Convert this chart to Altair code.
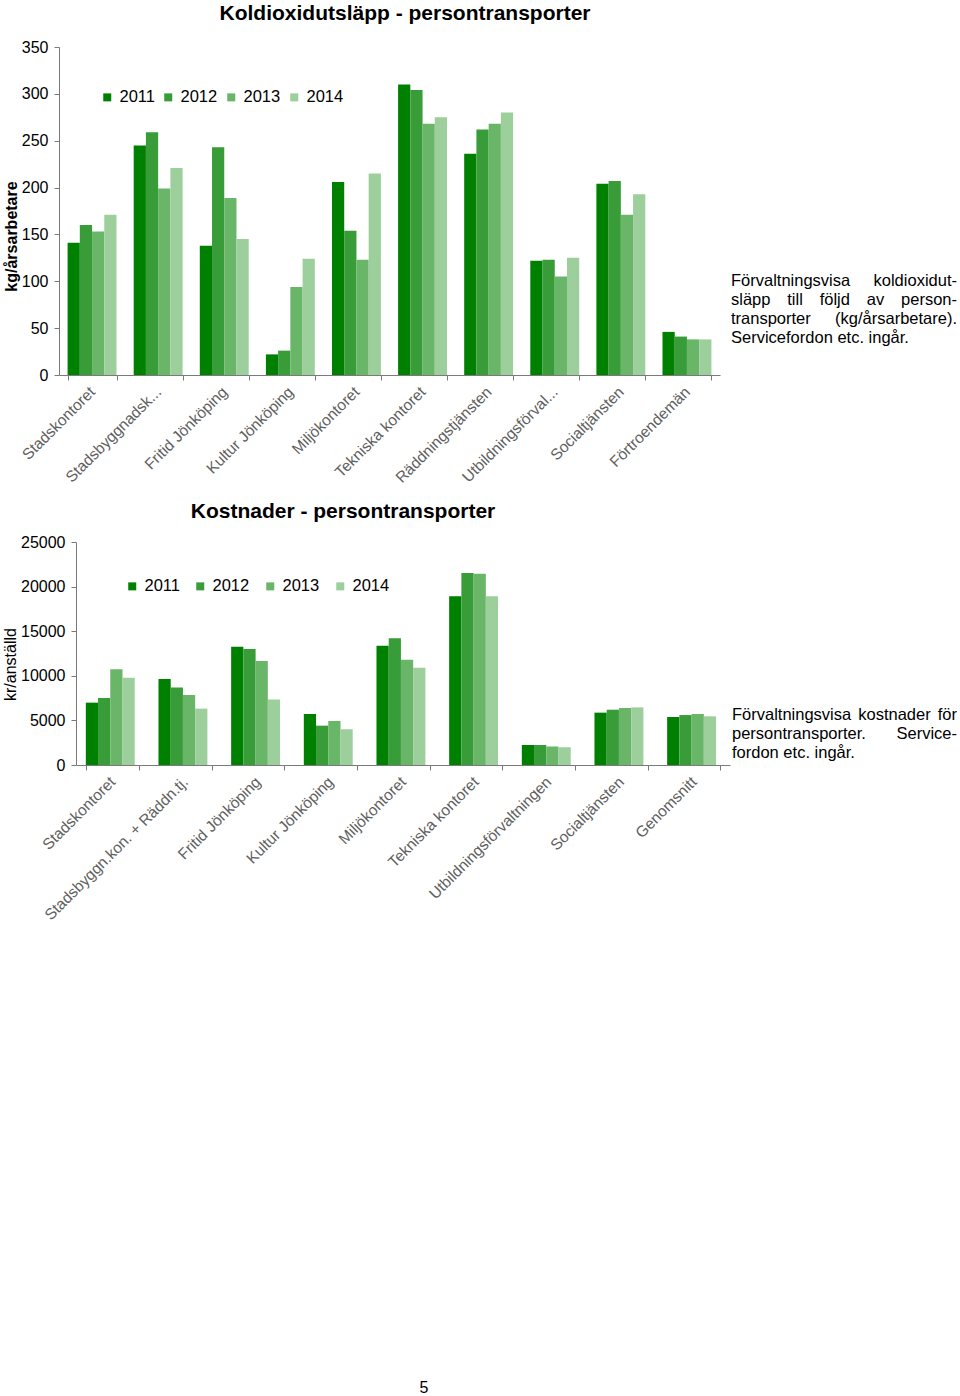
import altair as alt
import pandas as pd

years = ["2011", "2012", "2013", "2014"]
colors = ["#008000", "#389c38", "#69b669", "#9dcf9d"]

co2_cats = ["Stadskontoret", "Stadsbyggnadsk...", "Fritid Jönköping", "Kultur Jönköping",
            "Miljökontoret", "Tekniska kontoret", "Räddningstjänsten", "Utbildningsförval...",
            "Socialtjänsten", "Förtroendemän"]
co2_2011 = [141, 245, 138, 22, 206, 310, 236, 122, 204, 46]
co2_2012 = [160, 259, 243, 26, 154, 304, 262, 123, 207, 41]
co2_2013 = [153, 199, 189, 94, 123, 268, 268, 105, 171, 38]
co2_2014 = [171, 221, 145, 124, 215, 275, 280, 125, 193, 38]

cost_cats = ["Stadskontoret", "Stadsbyggn.kon. + Räddn.tj.", "Fritid Jönköping", "Kultur Jönköping",
             "Miljökontoret", "Tekniska kontoret", "Utbildningsförvaltningen", "Socialtjänsten",
             "Genomsnitt"]
cost_2011 = [6990, 9640, 13270, 5720, 13380, 18910, 2240, 5870, 5380]
cost_2012 = [7510, 8700, 13000, 4410, 14200, 21530, 2240, 6200, 5600]
cost_2013 = [10730, 7850, 11660, 4930, 11810, 21450, 2060, 6390, 5720]
cost_2014 = [9790, 6320, 7330, 4000, 10910, 18910, 1980, 6460, 5460]

co2_title = "Koldioxidutsläpp - persontransporter"
cost_title = "Kostnader - persontransporter"

co2_note = [["Förvaltningsvisa", "koldioxidut-"],
            ["släpp", "till", "följd", "av", "person-"],
            ["transporter", "(kg/årsarbetare)."],
            ["Servicefordon etc. ingår."]]
cost_note = [["Förvaltningsvisa", "kostnader", "för"],
             ["persontransporter.", "Service-"],
             ["fordon etc. ingår."]]

FONT = "Liberation Sans"
NOTE_SIZE = 16.5
AXIS_COL = "#7a7a7a"
ORIGIN_X = 59  # both panels share this group origin

W = {' ': 278, '(': 333, ')': 333, '+': 584, ',': 278, '-': 333, '.': 278, '/': 278,
     'F': 611, 'S': 667,
     'a': 556, 'b': 556, 'c': 500, 'd': 556, 'e': 556, 'f': 278, 'g': 556, 'h': 556,
     'i': 222, 'j': 222, 'k': 500, 'l': 222, 'm': 833, 'n': 556, 'o': 556, 'p': 556,
     'q': 556, 'r': 333, 's': 500, 't': 278, 'u': 556, 'v': 500, 'w': 722, 'x': 500,
     'y': 500, 'z': 500, 'å': 556, 'ä': 556, 'ö': 556}


def tw(s, size=NOTE_SIZE):
    return sum(W.get(c, 556) for c in s) * size / 1000.0


def note_rows(lines, left, right, first_base, step, ox, oy):
    rows = []
    for li, words in enumerate(lines):
        yb = first_base + li * step - oy
        if len(words) == 1 or li == len(lines) - 1:
            rows.append({"t": " ".join(words), "x": left - ox, "y": yb, "a": "left"})
            continue
        widths = [tw(w) for w in words]
        gap = (right - left - sum(widths)) / (len(words) - 1)
        x = left
        for i, w in enumerate(words):
            if i == len(words) - 1:
                rows.append({"t": w, "x": right - ox, "y": yb, "a": "right"})
            else:
                rows.append({"t": w, "x": x - ox, "y": yb, "a": "left"})
            x += widths[i] + gap
    return pd.DataFrame(rows)


def long_df(cats, series):
    recs = []
    for y, vals in zip(years, series):
        for c, v in zip(cats, vals):
            recs.append({"cat": c, "year": y, "value": v})
    return pd.DataFrame(recs)


def text_layer(df):
    layers = []
    for a in ["left", "right"]:
        sub = df[df["a"] == a]
        if len(sub) == 0:
            continue
        layers.append(alt.Chart(sub).mark_text(align=a, baseline="alphabetic", font=FONT,
                                               fontSize=NOTE_SIZE, color="#000000").encode(
            x=alt.X("x:Q", scale=None, axis=None),
            y=alt.Y("y:Q", scale=None, axis=None),
            text="t:N"))
    return layers


def title_layer(text, cx, base_y):
    df = pd.DataFrame({"t": [text], "x": [cx], "y": [base_y]})
    return alt.Chart(df).mark_text(align="center", baseline="alphabetic", font=FONT, fontSize=21,
                                   fontWeight="bold", color="#000000").encode(
        x=alt.X("x:Q", scale=None, axis=None), y=alt.Y("y:Q", scale=None, axis=None), text="t:N")


def bar_panel(cats, series, ymax, ystep, ytitle, ytitle_bold, ytitle_size, ytitle_y,
              x0, x1, height, pad_in, legend_x, legend_y, legend_pad, ytitle_pad):
    df = long_df(cats, series)
    yaxis_kw = {}
    if x0 > 0:
        yaxis_kw["offset"] = -x0
    return alt.Chart(df).mark_bar().encode(
        x=alt.X("cat:N", sort=cats,
                scale=alt.Scale(paddingInner=pad_in, paddingOuter=pad_in / 2, range=[x0, x1]),
                axis=alt.Axis(title=None, labelAngle=-45, labelAlign="right", labelBaseline="middle",
                              labelFont=FONT, labelFontSize=15.5, labelColor="#606060",
                              labelPadding=9, tickBand="extent", tickSize=5, domainColor=AXIS_COL,
                              tickColor=AXIS_COL, labelLimit=400)),
        xOffset=alt.XOffset("year:N", sort=years, scale=alt.Scale(paddingInner=0, paddingOuter=0)),
        y=alt.Y("value:Q", scale=alt.Scale(domain=[0, ymax], nice=False),
                axis=alt.Axis(title=ytitle, values=list(range(0, ymax + 1, ystep)), grid=False,
                              format="d", labelFont=FONT, labelFontSize=16, labelColor="#000000",
                              titleFont=FONT, titleFontSize=ytitle_size,
                              titleFontWeight="bold" if ytitle_bold else "normal",
                              titleColor="#000000", titlePadding=ytitle_pad, titleY=ytitle_y,
                              tickSize=5, domainColor=AXIS_COL, tickColor=AXIS_COL, labelPadding=6,
                              **yaxis_kw)),
        color=alt.Color("year:N", sort=years, scale=alt.Scale(domain=years, range=colors),
                        legend=alt.Legend(title=None, orient="none", legendX=legend_x, legendY=legend_y,
                                          direction="horizontal", symbolType="square", symbolSize=64,
                                          symbolStrokeWidth=0, labelFont=FONT, labelFontSize=16.5,
                                          labelColor="#000000", columnPadding=legend_pad, labelOffset=4)),
    ).properties(width=x1, height=height)


# top panel: plot area x 59..720, y 47..375
top_bars = bar_panel(co2_cats, [co2_2011, co2_2012, co2_2013, co2_2014], 350, 50,
                     "kg/årsarbetare", True, 16, 189, 0, 661, 328, 0.26, 40, 42, 5, 2)
top_notes = note_rows(co2_note, 731, 957, 286, 19, ORIGIN_X, 47)
top = alt.layer(top_bars, *text_layer(top_notes),
                title_layer(co2_title, 405 - ORIGIN_X, 19.5 - 47)
                ).resolve_scale(x="independent", y="independent")

# bottom panel: plot area x 76..730, y 542..765 (group origin at x 59)
bot_bars = bar_panel(cost_cats, [cost_2011, cost_2012, cost_2013, cost_2014], 25000, 5000,
                     "kr/anställd", False, 16, 122, 17, 671, 223, 0.27, 65, 36, 12, 2)
bot_notes = note_rows(cost_note, 732, 957, 720, 19, ORIGIN_X, 542)
page = pd.DataFrame({"t": ["5"], "x": [424 - ORIGIN_X], "y": [1393 - 542]})
page_layer = alt.Chart(page).mark_text(align="center", baseline="alphabetic", font=FONT,
                                       fontSize=16, color="#000000").encode(
    x=alt.X("x:Q", scale=None, axis=None), y=alt.Y("y:Q", scale=None, axis=None), text="t:N")
bot = alt.layer(bot_bars, *text_layer(bot_notes), page_layer,
                title_layer(cost_title, 343 - ORIGIN_X, 518 - 542)
                ).resolve_scale(x="independent", y="independent")

chart = alt.concat(top, bot, columns=1, spacing=15).properties(
    padding={"left": 2, "top": 2, "right": 0, "bottom": 0},
    background="#ffffff",
).resolve_scale(color="independent").resolve_legend(color="independent").configure_view(stroke=None)

chart.save("out.html", embed_options={"renderer": "svg", "actions": False})
